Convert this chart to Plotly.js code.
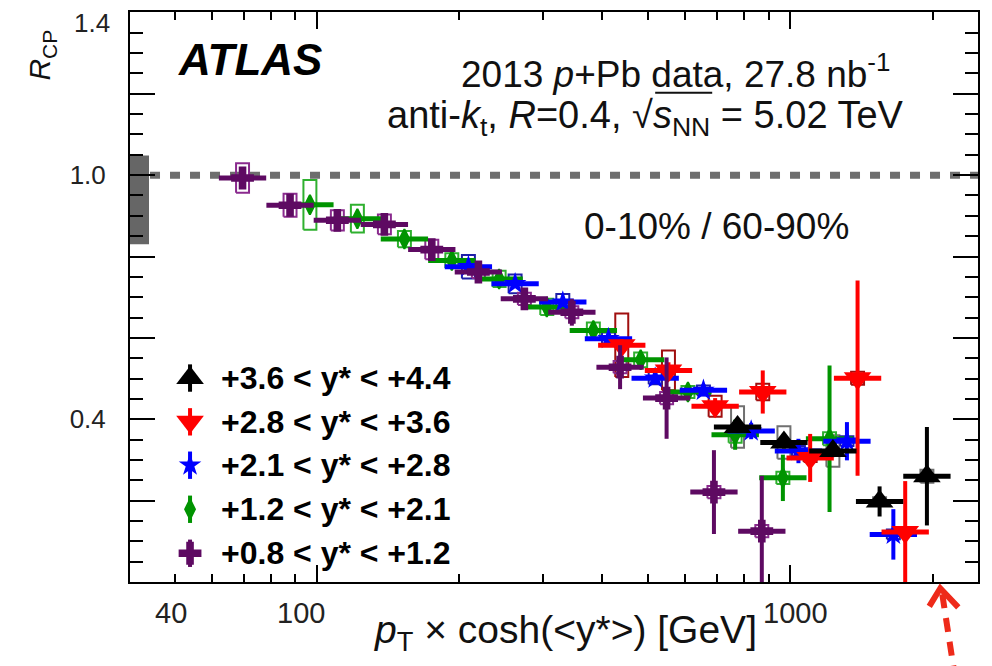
<!DOCTYPE html>
<html><head><meta charset="utf-8">
<script src="https://cdn.plot.ly/plotly-3.0.1.min.js"></script>
<style>body{margin:0;background:#fff}#chart{width:992px;height:666px}</style>
</head><body><div id="chart"></div>
<script>
// ---------- data ----------
const seriesNames = ['+3.6 < y* < +4.4', '+2.8 < y* < +3.6', '+2.1 < y* < +2.8', '+1.2 < y* < +2.1', '+0.8 < y* < +1.2'];

const blackX    = [774, 970, 1231, 1545, 1945];
const blackY    = [0.381, 0.343, 0.322, 0.198, 0.260];
const blackStat = [0.015, 0.015, 0.015, 0.037, 0.121];
const blackSyst = [0.051, 0.040, 0.039, 0.010, 0.016];

const redX    = [440.6, 553, 694, 875, 1102, 1388, 1750];
const redY    = [0.582, 0.520, 0.432, 0.467, 0.305, 0.501, 0.123];
const redStat = [0.015, 0.020, 0.020, 0.053, 0.059, 0.240, 0.125];
const redSyst = [0.078, 0.049, 0.026, 0.020, 0.010, 0.016, 0.010];

const blueX    = [208.9, 262.2, 330.7, 413, 518.4, 655.6, 827, 1041, 1318, 1652];
const blueY    = [0.775, 0.733, 0.688, 0.598, 0.501, 0.471, 0.371, 0.322, 0.346, 0.117];
const blueStat = [0.010, 0.010, 0.010, 0.012, 0.015, 0.015, 0.020, 0.030, 0.047, 0.062];
const blueSyst = [0.029, 0.023, 0.020, 0.015, 0.015, 0.012, 0.012, 0.012, 0.012, 0.012];

const greenX    = [96.6, 121.7, 153, 192.7, 242.6, 305.9, 383.7, 483, 608, 765, 965, 1211];
const greenY    = [0.927, 0.893, 0.843, 0.790, 0.745, 0.676, 0.618, 0.546, 0.467, 0.362, 0.256, 0.352];
const greenStat = [0.010, 0.010, 0.010, 0.010, 0.010, 0.012, 0.012, 0.015, 0.020, 0.037, 0.057, 0.180];
const greenSyst = [0.061, 0.034, 0.020, 0.018, 0.020, 0.020, 0.020, 0.018, 0.015, 0.020, 0.015, 0.016];

const purpleX    = [69.6, 87.7, 110.4, 138.8, 174.8, 219.3, 274.3, 345.6, 437, 548, 690, 871];
const purpleY    = [0.993, 0.926, 0.889, 0.879, 0.817, 0.762, 0.696, 0.663, 0.528, 0.452, 0.221, 0.125];
const purpleStat = [0.012, 0.012, 0.012, 0.012, 0.012, 0.015, 0.018, 0.033, 0.054, 0.100, 0.103, 0.136];
const purpleSyst = [0.036, 0.028, 0.025, 0.024, 0.024, 0.015, 0.015, 0.015, 0.015, 0.015, 0.015, 0.015];

const normBand = [0.830, 1.048];          // normalisation uncertainty at unity
const binHalfWidthDecades = 0.05;         // horizontal bars: half bin width (log10)
const boxHalfWidthDecades = 0.0137;       // systematic boxes: half width (log10)

const xTickLabels = ['40', '100', '1000'];
const xTickLabelAnchors = [1.6913, 1.9662, 3.0106]; // log10 positions where the labels sit in the figure
const yTickVals = [0, 0.2, 0.4, 0.6, 0.8, 1.0, 1.2, 1.4];
const yTickText = ['', '', '0.4', '', '', '1.0', '', ''];
const yTopLabel = '1.4';                  // top label, drawn slightly below its tick as in the figure

// ---------- styling ----------
const FONT = 'Liberation Sans, Arial, Helvetica, sans-serif';
const styles = [
  {color:'#000000', box:'#707070', symbol:'triangle-up',   size:24},
  {color:'#ff0000', box:'#a00f0f', symbol:'triangle-down', size:24},
  {color:'#0000ff', box:'#1f1fa8', symbol:'star',          size:17},
  {color:'#009400', box:'#2fb02f', symbol:'diamond-tall',  size:14},
  {color:'#5e0a62', box:'#8a2a8e', symbol:'cross',         size:19}
];
const allSeries = [
  [blackX, blackY, blackStat, blackSyst],
  [redX, redY, redStat, redSyst],
  [blueX, blueY, blueStat, blueSyst],
  [greenX, greenY, greenStat, greenSyst],
  [purpleX, purpleY, purpleStat, purpleSyst]
];

function boxTrace(xs, ys, syst, color){
  const bx = [], by = [];
  const f = Math.pow(10, boxHalfWidthDecades);
  xs.forEach((x, i) => {
    const x0 = x / f, x1 = x * f, y0 = ys[i] - syst[i], y1 = ys[i] + syst[i];
    bx.push(x0, x1, x1, x0, x0, null);
    by.push(y0, y0, y1, y1, y0, null);
  });
  return {x:bx, y:by, mode:'lines', line:{color:color, width:2}, hoverinfo:'skip', showlegend:false, connectgaps:false};
}
function markerStyle(st){
  return {symbol:st.symbol, size:st.size, color:st.color, line:{width: st.symbol==='diamond-tall' ? 2 : 0, color:st.color}};
}
function pointTrace(xs, ys, stat, st){
  const f = Math.pow(10, binHalfWidthDecades);
  return {
    x:xs, y:ys, mode:'markers', showlegend:false, marker:markerStyle(st),
    error_x:{type:'data', symmetric:false, array:xs.map(x => x*(f-1)), arrayminus:xs.map(x => x*(1-1/f)),
             color:st.color, thickness:5, width:0},
    error_y:{type:'data', array:stat, color:st.color, thickness:4, width:0}
  };
}

const traces = [];
allSeries.forEach((s, i) => traces.push(boxTrace(s[0], s[1], s[3], styles[i].box)));
[3, 2, 1, 0, 4].forEach(i => traces.push(pointTrace(allSeries[i][0], allSeries[i][1], allSeries[i][2], styles[i])));

// legend symbols on an auxiliary unit axis pair
const legendRowsY = [0.3578, 0.2810, 0.2049, 0.1276, 0.0504];
styles.forEach((st, i) => {
  traces.push({
    x:[0.0708], y:[legendRowsY[i]], xaxis:'x2', yaxis:'y2', mode:'markers', showlegend:false, hoverinfo:'skip',
    marker:markerStyle(st),
    error_y:{type:'constant', value:0.024, color:st.color, thickness:4, width:0}
  });
});

// ---------- layout ----------
const W = 992, H = 666, L = 130, R = 14.3, T = 12.4, B = 84.3;
const pw = W - L - R, ph = H - T - B;
const px = v => (v - L) / pw;
const py = v => (H - B - v) / ph;

const annotations = [];
xTickLabels.forEach((t, i) => annotations.push({
  text:t, xref:'x', yref:'paper', x:xTickLabelAnchors[i], y:py(613), xanchor:'center', yanchor:'middle',
  showarrow:false, font:{family:FONT, size:29, color:'#222'}
}));
annotations.push(
  {text:yTopLabel, xref:'paper', yref:'paper', x:px(112), y:py(23), xanchor:'right', yanchor:'middle', showarrow:false,
   font:{family:FONT, size:26, color:'#222'}},
  {text:'<b><i>ATLAS</i></b>', xref:'paper', yref:'paper', x:px(176), y:py(60), xanchor:'left', yanchor:'middle', showarrow:false,
   font:{family:FONT, size:44, color:'#000'}},
  {text:'2013 <i>p</i>+Pb data, 27.8 nb<sup>-1</sup>', xref:'paper', yref:'paper', x:px(892), y:py(72), xanchor:'right', yanchor:'middle', showarrow:false,
   font:{family:FONT, size:37, color:'#111'}},
  {text:'anti-<i>k</i><sub>t</sub>, <i>R</i>=0.4, √<i>s</i><sub>NN</sub> = 5.02 TeV', xref:'paper', yref:'paper', x:px(906), y:py(118), xanchor:'right', yanchor:'middle', showarrow:false,
   font:{family:FONT, size:38, color:'#111'}},
  {text:'0-10% / 60-90%', xref:'paper', yref:'paper', x:px(582), y:py(227), xanchor:'left', yanchor:'middle', showarrow:false,
   font:{family:FONT, size:37, color:'#111'}},
  {text:'<i>R</i><sub>CP</sub>', xref:'paper', yref:'paper', x:px(42), y:py(55), xanchor:'center', yanchor:'middle', textangle:-90, showarrow:false,
   font:{family:FONT, size:30, color:'#111'}},
  {text:'<i>p</i><sub>T</sub> × cosh(&lt;y*&gt;) [GeV]', xref:'paper', yref:'paper', x:px(565), y:py(632), xanchor:'center', yanchor:'middle', showarrow:false,
   font:{family:FONT, size:39, color:'#111'}}
);
seriesNames.forEach((n, i) => annotations.push({
  text:'<b>' + n.replace(/</g, '&lt;') + '</b>', xref:'paper', yref:'paper', x:px(219), y:legendRowsY[i], xanchor:'left', yanchor:'middle',
  showarrow:false, font:{family:FONT, size:32, color:'#000'}
}));

const shapes = [
  {type:'rect', xref:'paper', yref:'y', x0:0, x1:px(149), y0:normBand[0], y1:normBand[1], fillcolor:'#666666', line:{width:0}, layer:'below'},
  {type:'line', xref:'paper', yref:'y', x0:px(150), x1:1, y0:1, y1:1, line:{color:'#6e6e6e', width:7, dash:'10px,10px'}, layer:'below'},
  // bar of the square-root sign over s_NN
  {type:'line', xref:'paper', yref:'paper', x0:px(655), x1:px(712), y0:py(93), y1:py(93), line:{color:'#111', width:2}},
  // red dashed arrow below the axis
  {type:'line', xref:'paper', yref:'paper', x0:px(942), y0:py(594), x1:px(954), y1:py(672), line:{color:'#ee2a1a', width:6, dash:'14px,10px'}},
  {type:'path', xref:'paper', yref:'paper', path:'M ' + px(929) + ',' + py(606) + ' L ' + px(940) + ',' + py(588) + ' L ' + px(958) + ',' + py(607),
   line:{color:'#ee2a1a', width:6}}
];

const axisCommon = {showline:true, linewidth:2, linecolor:'#000', mirror:'allticks', showgrid:false, zeroline:false, ticks:'inside', tickwidth:2, tickcolor:'#000'};

const layout = {
  width:W, height:H, margin:{l:L, r:R, t:T, b:B}, paper_bgcolor:'#fff', plot_bgcolor:'#fff', showlegend:false,
  xaxis:Object.assign({}, axisCommon, {
    type:'log', range:[Math.log10(40.25), Math.log10(2494)], tickmode:'array', tickvals:[100, 1000], ticklen:17, showticklabels:false,
    minor:{tickmode:'array', tickvals:[50,60,70,80,90,200,300,400,500,600,700,800,900,2000], ticks:'inside', ticklen:8, tickwidth:2, tickcolor:'#000', showgrid:false}
  }),
  yaxis:Object.assign({}, axisCommon, {
    range:[0, 1.401], tickmode:'array', tickvals:yTickVals, ticktext:yTickText, ticklen:25, ticklabelstandoff:17,
    tickfont:{family:FONT, size:26, color:'#222'},
    minor:{tickmode:'linear', tick0:0, dtick:0.05, ticks:'inside', ticklen:13, tickwidth:2, tickcolor:'#000', showgrid:false}
  }),
  xaxis2:{overlaying:'x', range:[0,1], visible:false, anchor:'y2', fixedrange:true},
  yaxis2:{overlaying:'y', range:[0,1], visible:false, anchor:'x2', fixedrange:true},
  annotations:annotations, shapes:shapes
};

Plotly.newPlot('chart', traces, layout, {staticPlot:true, displayModeBar:false});
</script>
</body></html>
